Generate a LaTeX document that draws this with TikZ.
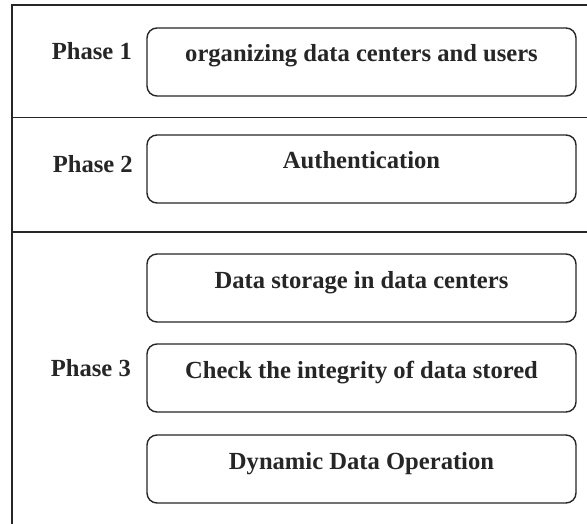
\documentclass[tikz,border=0pt]{standalone}
\usepackage{fontspec}
\setmainfont{Liberation Serif}
\definecolor{ink}{HTML}{262626}
\begin{document}
\begin{tikzpicture}[x=1pt,y=-1pt,
  frameline/.style={draw=ink,line width=1.7pt},
  stagebox/.style={draw=ink,line width=1.4pt,rounded corners=10pt,
    minimum width=429pt,minimum height=68pt,inner sep=0pt,
    text height=0pt,text depth=0pt,text=ink,
    font=\fontsize{24.6}{28}\selectfont\bfseries},
  phaselabel/.style={anchor=base east,inner sep=0pt,text=ink,
    font=\fontsize{24.6}{28}\selectfont\bfseries}]
\useasboundingbox (0,0) rectangle (587,524);
\fill[white] (0,0) rectangle (587,524);
% frame (cropped on right and bottom)
\coordinate (tl) at (12,5);
\coordinate (tr) at (588,5);
\coordinate (bl) at (12,525);
\coordinate (d1l) at (12,117.5);
\coordinate (d1r) at (588,117.5);
\coordinate (d2l) at (12,232);
\coordinate (d2r) at (588,232);
\draw[frameline] (tr) -- (tl) -- (bl);
\draw[frameline] (d1l) -- (d1r);
\draw[frameline] (d2l) -- (d2r);
% boxes
\node[stagebox] (b1) at (361.5,62) {organizing data centers and users};
\node[stagebox] (b2) at (361.5,169) {Authentication};
\node[stagebox] (b3) at (361.5,288) {Data storage in data centers};
\node[stagebox] (b4) at (361.5,378) {Check the integrity of data stored};
\node[stagebox] (b5) at (361.5,469) {Dynamic Data Operation};
% phase labels
\node[phaselabel] (p1) at (132,60) {Phase 1};
\node[phaselabel] (p2) at (133,173) {Phase 2};
\node[phaselabel] (p3) at (131,376) {Phase 3};
\end{tikzpicture}
\end{document}
